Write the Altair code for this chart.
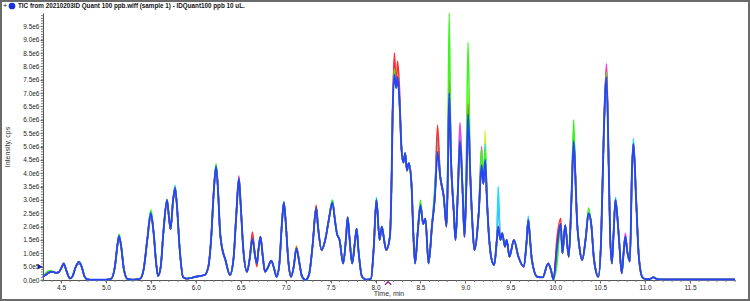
import altair as alt
import pandas as pd

# ---------------- data ----------------
# main (blue) TIC trace: retention time (min) and intensity (1e6 cps)
blue_t = [4.30, 4.34, 4.38, 4.41, 4.44, 4.47, 4.50, 4.53, 4.56, 4.60, 4.63, 4.66, 4.70, 4.73, 4.76, 4.79,
          4.85, 5.00, 5.06, 5.10, 5.13, 5.146, 5.17, 5.20, 5.24, 5.30, 5.38, 5.42, 5.46, 5.50, 5.53, 5.56,
          5.58, 5.61, 5.64, 5.68, 5.70, 5.72, 5.745, 5.77, 5.79, 5.82, 5.86, 5.90, 6.00, 6.10, 6.14, 6.17,
          6.20, 6.226, 6.25, 6.27, 6.29, 6.33, 6.38, 6.42, 6.45, 6.48, 6.50, 6.53, 6.57, 6.60, 6.63, 6.66,
          6.68, 6.70, 6.72, 6.745, 6.77, 6.80, 6.84, 6.87, 6.90, 6.93, 6.96, 6.98, 7.00, 7.03, 7.06, 7.09,
          7.12, 7.15, 7.18, 7.22, 7.26, 7.30, 7.34, 7.36, 7.40, 7.44, 7.48, 7.52, 7.55, 7.57, 7.60, 7.64,
          7.67, 7.69, 7.71, 7.74, 7.77, 7.79, 7.81, 7.85, 7.90, 7.95, 7.98, 8.01, 8.045, 8.07, 8.10, 8.12,
          8.16, 8.18, 8.19, 8.21, 8.23, 8.245, 8.265, 8.29, 8.31, 8.33, 8.35, 8.37, 8.40, 8.42, 8.44, 8.47,
          8.50, 8.53, 8.555, 8.59, 8.63, 8.66, 8.69, 8.72, 8.76, 8.79, 8.805, 8.82, 8.84, 8.87, 8.89, 8.915,
          8.94, 8.97, 8.99, 9.01, 9.03, 9.055, 9.08, 9.10, 9.15, 9.18, 9.20, 9.22, 9.24, 9.26, 9.29, 9.32,
          9.35, 9.365, 9.39, 9.41, 9.44, 9.46, 9.49, 9.54, 9.59, 9.65, 9.68, 9.70, 9.72, 9.74, 9.80, 9.86,
          9.92, 9.95, 9.98, 10.02, 10.06, 10.08, 10.11, 10.15, 10.18, 10.205, 10.22, 10.24, 10.27, 10.30,
          10.34, 10.37, 10.40, 10.43, 10.45, 10.48, 10.51, 10.54, 10.57, 10.595, 10.61, 10.63, 10.65, 10.67,
          10.69, 10.71, 10.74, 10.76, 10.78, 10.80, 10.83, 10.855, 10.87, 10.90, 10.93, 10.97, 11.00, 11.05,
          11.09, 11.13, 11.20, 12.00]
blue_v = [0.12, 0.22, 0.30, 0.31, 0.27, 0.28, 0.42, 0.62, 0.35, 0.06, 0.15, 0.45, 0.68, 0.50, 0.15, 0.03,
          0.01, 0.01, 0.05, 0.50, 1.35, 1.65, 1.25, 0.40, 0.04, 0.01, 0.05, 0.40, 1.50, 2.50, 1.80, 0.60,
          0.15, 0.50, 1.80, 3.00, 2.40, 1.90, 2.90, 3.45, 2.80, 1.20, 0.10, 0.05, 0.12, 0.19, 0.50, 1.50,
          3.30, 4.25, 3.20, 1.80, 1.25, 0.75, 0.19, 0.80, 2.40, 3.80, 2.80, 1.10, 0.31, 0.80, 1.56, 0.90,
          0.62, 1.20, 1.62, 0.90, 0.31, 0.45, 0.72, 0.45, 0.12, 0.60, 2.20, 2.90, 2.20, 0.70, 0.12, 0.50,
          1.19, 0.70, 0.15, 0.00, 0.20, 1.30, 2.70, 2.00, 1.12, 1.50, 2.25, 2.90, 2.20, 1.75, 1.50, 0.62,
          1.50, 2.35, 1.60, 0.62, 1.40, 1.92, 1.12, 0.12, 0.01, 0.05, 1.20, 3.00, 1.50, 2.00, 1.40, 1.12,
          1.62, 4.00, 6.20, 7.70, 7.20, 7.60, 6.80, 4.87, 4.40, 4.75, 4.10, 4.37, 3.60, 1.80, 0.62, 1.80,
          2.80, 2.10, 2.30, 0.62, 2.10, 3.10, 4.80, 3.87, 3.10, 2.00, 4.00, 7.00, 4.50, 2.60, 1.50, 3.20,
          5.20, 3.25, 1.62, 3.50, 6.20, 3.87, 2.00, 1.12, 2.60, 4.30, 3.60, 4.50, 3.00, 1.75, 0.80, 0.56,
          1.50, 2.00, 1.50, 1.75, 1.25, 1.50, 0.87, 1.50, 0.87, 0.50, 1.40, 2.25, 1.50, 0.75, 0.12, 0.10,
          0.62, 0.40, 0.02, 1.25, 2.10, 1.00, 2.05, 0.87, 3.00, 5.20, 4.25, 2.37, 1.20, 0.75,
          1.60, 2.50, 2.10, 0.80, 0.37, 0.12, 1.50, 5.50, 7.60, 4.25, 1.75, 0.62, 1.80, 3.00,
          2.40, 1.50, 0.25, 1.00, 1.62, 1.10, 0.69, 4.25, 5.10, 3.00, 0.87, 0.10, 0.04, 0.03,
          0.10, 0.04, 0.02, 0.02]

# the other injections: points where they stand out from the blue trace
green_t = [4.34, 4.38, 5.146, 5.50, 6.226, 7.52, 8.21, 8.50, 8.66, 8.805, 8.82, 9.01, 9.03, 9.18, 9.22,
           10.02, 10.205, 10.37, 10.57]
green_v = [0.30, 0.36, 1.72, 2.62, 4.35, 3.00, 7.90, 3.00, 3.50, 5.00, 10.0, 4.50, 8.90, 4.90, 4.90,
           0.60, 6.00, 2.70, 7.80]
red_t = [6.63, 6.68, 7.34, 8.21, 8.245, 8.265, 8.69, 8.82, 9.03, 10.02, 10.06, 10.57]
red_v = [1.80, 0.50, 2.80, 8.50, 8.20, 7.30, 5.80, 7.50, 6.60, 1.60, 2.30, 7.90]
magenta_t = [5.68, 5.77, 6.48, 7.69, 8.21, 8.94, 9.18, 10.57, 10.58, 10.78]
magenta_v = [2.85, 3.30, 3.90, 2.20, 8.30, 5.90, 5.00, 8.10, 7.00, 1.75]
cyan_t = [5.50, 5.77, 6.226, 6.98, 7.52, 8.01, 8.69, 8.94, 9.22, 9.365, 9.70, 10.205, 10.67, 10.87]
cyan_v = [2.60, 3.55, 4.30, 2.95, 3.00, 3.10, 5.40, 5.80, 5.10, 3.50, 2.40, 5.60, 3.10, 5.30]
yellow_t = [8.82, 9.03, 9.22, 10.02]
yellow_v = [8.00, 7.00, 5.60, 0.90]
orange_t = [7.12, 8.69, 8.82, 10.205]
orange_v = [1.28, 5.20, 7.80, 5.00]
purple_t = [4.53, 4.70, 5.146, 5.50, 6.48, 9.365, 10.87]
purple_v = [0.55, 0.60, 1.50, 2.30, 3.60, 3.00, 4.80]

overlay_names = ["purple", "orange", "yellow", "cyan", "magenta", "red", "green"]
overlay_colors = ["#8a5cff", "#ff9a1a", "#d8f03a", "#22dcf5", "#f23cf0", "#ff2d2d", "#3cf51e"]
overlays = {
    "purple": (purple_t, purple_v), "orange": (orange_t, orange_v), "yellow": (yellow_t, yellow_v),
    "cyan": (cyan_t, cyan_v), "magenta": (magenta_t, magenta_v), "red": (red_t, red_v),
    "green": (green_t, green_v),
}

# axis ticks
x_major = [4.5, 5.0, 5.5, 6.0, 6.5, 7.0, 7.5, 8.0, 8.5, 9.0, 9.5, 10.0, 10.5, 11.0, 11.5]
x_minor = [round(4.3 + 0.1 * i, 1) for i in range(78)]
y_major = [round(5e5 * i) for i in range(20)]
y_minor = [round(1e5 * i) for i in range(100)]

title_text = "TIC from 20210203ID Quant 100 ppb.wiff (sample 1) - IDQuant100 ppb 10 uL."
marker_t = [8.14]
threshold_v = [5e5]

# ---------------- build tables ----------------
blue_df = pd.DataFrame({"t": blue_t, "v": [b * 1e6 for b in blue_v]})
rows = []
for name in overlay_names:
    d = dict(zip(blue_t, blue_v))
    ts, vs = overlays[name]
    for t, v in zip(ts, vs):
        d[t] = v
    for t in sorted(d):
        rows.append({"t": t, "v": d[t] * 1e6, "s": name})
over_df = pd.DataFrame(rows)

W, H = 692, 267
FONT = "Liberation Sans"

xscale = alt.Scale(domain=[4.3, 12.0], nice=False, zero=False)
yscale = alt.Scale(domain=[0, 1.0e7], nice=False)

x_axis = alt.Axis(values=x_major, format=".1f", title=None)
y_axis = alt.Axis(
    values=y_major, title=None,
    labelExpr="datum.value == 0 ? '0.0e0' : (datum.value == 500000 ? '5.0e5' : format(datum.value/1e6, '.1f') + 'e6')",
)


def X(field):
    return alt.X(field, type="quantitative", scale=xscale, axis=x_axis)


def Y(field):
    return alt.Y(field, type="quantitative", scale=yscale, axis=y_axis)


over = alt.Chart(over_df).mark_line(strokeWidth=1.5, interpolate="monotone").encode(
    x=X("t"), y=Y("v"),
    color=alt.Color("s:N", scale=alt.Scale(domain=overlay_names, range=overlay_colors), legend=None),
)
blue = alt.Chart(blue_df).mark_line(strokeWidth=1.9, color="#2545f8", interpolate="monotone").encode(
    x=X("t"), y=Y("v"),
)

xminor_mark = alt.Chart(pd.DataFrame({"t": x_minor})).mark_rule(color="#777", strokeWidth=1).encode(
    x=X("t"), y=alt.value(H), y2=alt.value(H + 2))
yminor_mark = alt.Chart(pd.DataFrame({"v": y_minor})).mark_rule(color="#777", strokeWidth=1).encode(
    y=Y("v"), x=alt.value(-2), x2=alt.value(0))

lab_df = pd.DataFrame({"title": [title_text], "ylab": ["Intensity, cps"], "xlab": ["Time, min"]})
title_mark = alt.Chart(lab_df).mark_text(align="left", baseline="middle", font=FONT, fontSize=6.3,
                                         fontWeight="bold", color="#111").encode(
    x=alt.value(-25), y=alt.value(-7), text="title:N")
plus_mark = alt.Chart(lab_df).mark_text(align="center", baseline="middle", font=FONT, fontSize=8,
                                        color="#333").encode(x=alt.value(-38), y=alt.value(-7), text=alt.value("+"))
dot_mark = alt.Chart(lab_df).mark_point(shape="circle", filled=True, size=45, color="#1830e0", opacity=1).encode(
    x=alt.value(-31), y=alt.value(-7))
ylab_mark = alt.Chart(lab_df).mark_text(angle=270, align="center", baseline="middle", font=FONT, fontSize=7,
                                        color="#333").encode(x=alt.value(-35), y=alt.value(134), text="ylab:N")
xlab_mark = alt.Chart(lab_df).mark_text(align="center", baseline="middle", font=FONT, fontSize=7,
                                        color="#333").encode(x=alt.value(346), y=alt.value(281), text="xlab:N")

caret = alt.Chart(pd.DataFrame({"t": marker_t})).mark_point(
    shape="M -1 0.6 L 0 -0.4 L 1 0.6", filled=False, size=40, color="#8a1a8a", strokeWidth=1.3, opacity=1).encode(
    x=X("t"), y=alt.value(270))
thresh = alt.Chart(pd.DataFrame({"v": threshold_v})).mark_point(
    shape="triangle-right", filled=True, size=30, color="#1a1ab0", opacity=1).encode(
    x=alt.value(-3), y=Y("v"))

frame = alt.Chart(lab_df).mark_rect(fill="transparent", stroke="#6a6a6a", strokeWidth=2).encode(
    x=alt.value(-42), x2=alt.value(706), y=alt.value(-12), y2=alt.value(287))

chart = alt.layer(over, blue, xminor_mark, yminor_mark, caret, thresh, title_mark, plus_mark, dot_mark,
                  ylab_mark, xlab_mark, frame).properties(
    width=W, height=H,
    padding={"left": 43, "top": 13, "right": 15, "bottom": 21},
    autosize=alt.AutoSizeParams(type="none"),
    background="white",
).configure_view(stroke=None).configure_axis(
    grid=False, labelFont=FONT, labelFontSize=6.5, labelColor="#222", labelPadding=1,
    domainColor="#555", tickColor="#666", tickSize=3, labelFlush=False, labelOverlap=False,
)

chart.save("out.html", embed_options={"renderer": "svg", "actions": False})
